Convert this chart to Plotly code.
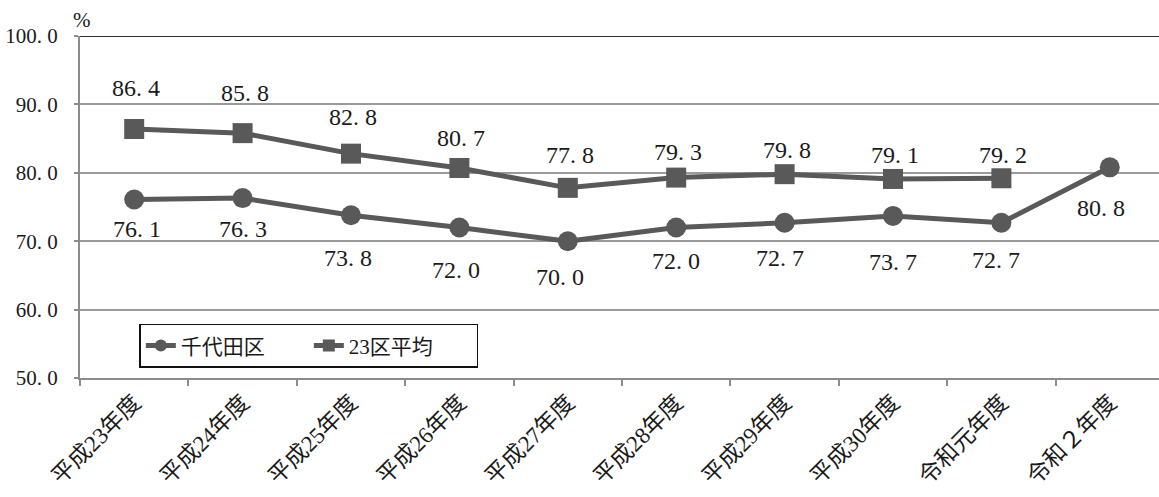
import plotly.graph_objects as go

# Fiscal years on the x axis
years = ["平成23年度", "平成24年度", "平成25年度", "平成26年度", "平成27年度",
         "平成28年度", "平成29年度", "平成30年度", "令和元年度", "令和２年度"]

# Rates (%) by fiscal year
chiyoda = [76.1, 76.3, 73.8, 72.0, 70.0, 72.0, 72.7, 73.7, 72.7, 80.8]
ward23_avg = [86.4, 85.8, 82.8, 80.7, 77.8, 79.3, 79.8, 79.1, 79.2, None]

y_ticks = [50.0, 60.0, 70.0, 80.0, 90.0, 100.0]

# Label placement offsets (pixels) relative to each marker
avg_label_dy = [41, 40, 37, 30, 33, 26, 24, 24, 23]
chiyoda_label_dy = [-30, -31, -43, -42, -36, -33, -35, -46, -37, -41]
chiyoda_label_dx = [3, 0, -3, -3, -8, 0, -5, 0, -5, -9]


def fmt(v):
    # one decimal place, rendered with a wide gap after the point
    return f"{v:.1f}".replace(".", ". ")


LINE = "#595959"
NUM_FONT = "Liberation Serif"
CJK_FONT = "Liberation Serif, Noto Sans CJK JP"
TEXT_COL = "#1a1a1a"

fig = go.Figure()
fig.add_trace(go.Scatter(
    x=years, y=chiyoda, name="千代田区", mode="lines+markers",
    line=dict(color=LINE, width=5),
    marker=dict(symbol="circle", size=20, color=LINE),
))
fig.add_trace(go.Scatter(
    x=years[:len(avg_label_dy)], y=ward23_avg[:len(avg_label_dy)], name="23区平均",
    mode="lines+markers",
    line=dict(color=LINE, width=5),
    marker=dict(symbol="square", size=20, color=LINE),
))

annotations = []
for i, v in enumerate(chiyoda):
    annotations.append(dict(
        x=years[i], y=v, text=fmt(v), showarrow=False,
        xshift=chiyoda_label_dx[i], yshift=chiyoda_label_dy[i],
        font=dict(family=NUM_FONT, size=24, color=TEXT_COL),
    ))
for i, dy in enumerate(avg_label_dy):
    v = ward23_avg[i]
    annotations.append(dict(
        x=years[i], y=v, text=fmt(v), showarrow=False,
        xshift=2, yshift=dy,
        font=dict(family=NUM_FONT, size=24, color=TEXT_COL),
    ))
# unit mark above the value axis
annotations.append(dict(
    x=0.002, xref="paper", y=1.0, yref="paper", yshift=16,
    text="%", showarrow=False, xanchor="center", yanchor="middle",
    font=dict(family=NUM_FONT, size=21, color=TEXT_COL),
))

fig.update_layout(
    width=1159, height=497,
    margin=dict(l=80, r=0, t=36, b=119),
    paper_bgcolor="white", plot_bgcolor="white",
    showlegend=True,
    legend=dict(
        orientation="h", x=0.055, xanchor="left", y=0.158, yanchor="top",
        bgcolor="white", bordercolor="#111111", borderwidth=1.5,
        font=dict(family=CJK_FONT, size=21, color=TEXT_COL),
        entrywidth=123, entrywidthmode="pixels",
        itemsizing="constant",
    ),
    annotations=annotations,
    shapes=[dict(
        type="line", xref="paper", x0=0, x1=1, yref="y", y0=100, y1=100,
        line=dict(color="#333333", width=2), layer="above",
    )],
)

fig.update_xaxes(
    type="category", categoryorder="array", categoryarray=years,
    range=[-0.5, 9.454], automargin=False,
    tickson="boundaries", ticks="outside", ticklen=6, tickwidth=1.5, tickcolor="#8c8c8c",
    showline=True, linecolor="#8c8c8c", linewidth=2,
    showgrid=False, zeroline=False,
    tickangle=-45,
    tickfont=dict(family=CJK_FONT, size=23, color=TEXT_COL),
)
fig.update_yaxes(
    range=[50, 100], automargin=False,
    tickvals=y_ticks, ticktext=[fmt(v) for v in y_ticks],
    ticks="outside", ticklen=4, tickwidth=1.5, tickcolor="#8c8c8c",
    ticklabelstandoff=12,
    showline=True, linecolor="#8c8c8c", linewidth=2,
    showgrid=True, gridcolor="#9a9a9a", gridwidth=1.5,
    zeroline=False,
    tickfont=dict(family=NUM_FONT, size=21, color=TEXT_COL),
)

fig.write_html("out.html")
